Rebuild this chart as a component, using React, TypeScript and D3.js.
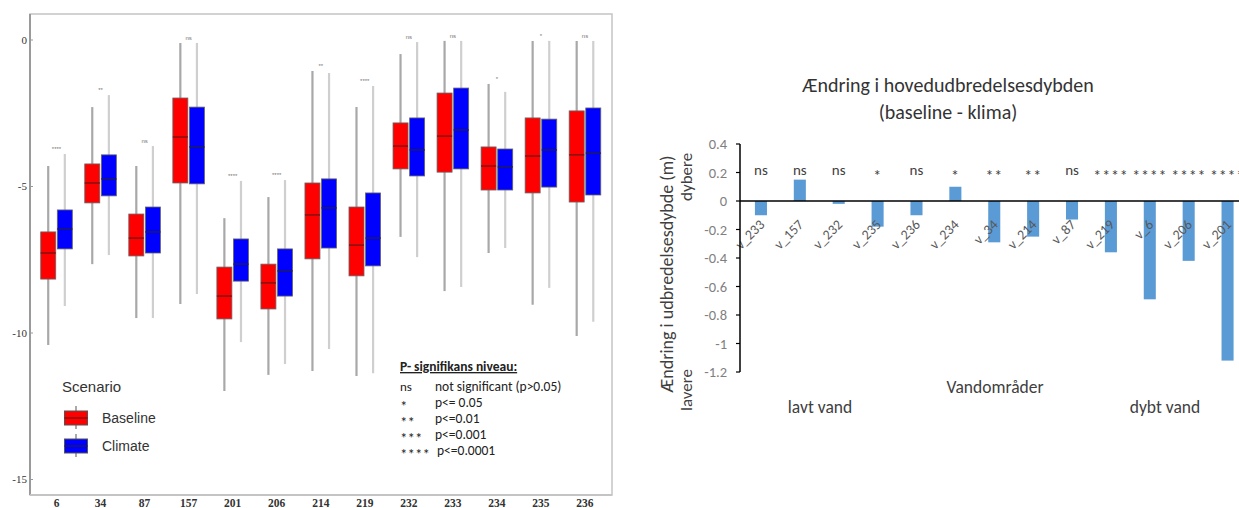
import React from 'react';
import * as d3 from 'd3';

// ---------- Left panel: box plot ----------
const boxCategories = ['6', '34', '87', '157', '201', '206', '214', '219', '232', '233', '234', '235', '236'];
const boxSig = ['****', '**', 'ns', 'ns', '****', '****', '**', '****', 'ns', 'ns', '*', '*', 'ns'];
// Baseline: [upper whisker, Q3, median, Q1, lower whisker]
const baselineMax = [-4.30, -2.29, -4.30, -0.10, -6.08, -5.36, -1.06, -2.29, -0.48, -0.03, -1.50, -0.03, -0.03];
const baselineQ3 = [-6.55, -4.23, -5.94, -1.98, -7.75, -7.65, -4.88, -5.70, -2.83, -1.81, -3.65, -2.66, -2.42];
const baselineMed = [-7.27, -4.88, -6.76, -3.31, -8.74, -8.29, -5.97, -7.00, -3.62, -3.28, -4.30, -3.96, -3.92];
const baselineQ1 = [-8.16, -5.56, -7.37, -4.88, -9.52, -9.18, -7.47, -8.05, -4.40, -4.51, -5.12, -5.22, -5.53];
const baselineMin = [-10.41, -7.65, -9.49, -9.01, -11.98, -11.43, -11.30, -11.47, -6.72, -8.57, -7.27, -9.04, -10.10];
// Climate
const climateMax = [-3.89, -1.88, -3.62, -0.10, -4.81, -4.78, -1.13, -1.57, -0.07, -0.03, -1.77, -0.03, -0.03];
const climateQ3 = [-5.80, -3.92, -5.70, -2.29, -6.79, -7.13, -4.74, -5.22, -2.66, -1.64, -3.72, -2.70, -2.32];
const climateMed = [-6.45, -4.74, -6.55, -3.65, -7.65, -7.88, -5.73, -6.76, -3.75, -3.07, -4.33, -3.75, -3.86];
const climateQ1 = [-7.13, -5.32, -7.27, -4.91, -8.23, -8.74, -7.10, -7.71, -4.64, -4.40, -5.12, -5.02, -5.29];
const climateMin = [-9.08, -7.34, -9.49, -8.67, -10.31, -11.06, -10.55, -11.37, -7.41, -8.43, -7.10, -8.46, -9.62];
const boxYTicks = [0, -5, -10, -15];
const scenarioNames = ['Baseline', 'Climate'];
const sigLegendSymbols = ['ns', '*', '**', '***', '****'];
const sigLegendTexts = ['not significant (p>0.05)', 'p<= 0.05', 'p<=0.01', 'p<=0.001', 'p<=0.0001'];

// ---------- Right panel: bar chart ----------
const barCategories = ['v_233', 'v_157', 'v_232', 'v_235', 'v_236', 'v_234', 'v_34', 'v_214', 'v_87', 'v_219', 'v_6', 'v_206', 'v_201'];
const barValues = [-0.1, 0.15, -0.02, -0.18, -0.1, 0.1, -0.29, -0.25, -0.13, -0.36, -0.69, -0.42, -1.12];
const barSig = ['ns', 'ns', 'ns', '*', 'ns', '*', '**', '**', 'ns', '****', '****', '****', '****'];
const barYTicks = [0.4, 0.2, 0, -0.2, -0.4, -0.6, -0.8, -1, -1.2];

const calibri = 'Carlito, Lato, "Open Sans", sans-serif';

function BoxPanel() {
  const x = d3.scaleBand<string>().domain(boxCategories).range([34.5, 607]).paddingInner(0);
  const y = d3.scaleLinear().domain([-15, 0]).range([479.5, 40]);
  const bw = 15;
  const off = 8.3;
  const series = [
    { name: 'Baseline', fill: '#ff0000', med: '#8b1010', whisk: '#a8a8a8', dx: -off, max: baselineMax, q3: baselineQ3, md: baselineMed, q1: baselineQ1, min: baselineMin },
    { name: 'Climate', fill: '#0000ff', med: '#1a1a6a', whisk: '#cfcfcf', dx: off, max: climateMax, q3: climateQ3, md: climateMed, q1: climateQ1, min: climateMin },
  ];
  return (
    <g>
      <rect x={30} y={14} width={582} height={481} fill="white" stroke="#c4c4c4" strokeWidth={1.5} />
      <line x1={30} x2={30} y1={14} y2={495} stroke="#9a9a9a" strokeWidth={2} />
      <line x1={30} x2={612} y1={495} y2={495} stroke="#c4c4c4" strokeWidth={2} />
      {boxYTicks.map((t) => (
        <g key={t}>
          <line x1={30} x2={33} y1={y(t)} y2={y(t)} stroke="#999" />
          <text x={27} y={y(t)} dy="0.35em" textAnchor="end" fontSize={11} fontFamily='"Liberation Serif", serif' fill="#333">
            {String(t)}
          </text>
        </g>
      ))}
      {boxCategories.map((c, i) => {
        const cx = (x(c) as number) + x.bandwidth() / 2;
        const top = Math.max(baselineMax[i], climateMax[i]);
        return (
          <g key={c}>
            {series.map((s) => {
              const bx = cx + s.dx;
              return (
                <g key={s.name}>
                  <line x1={bx} x2={bx} y1={y(s.max[i])} y2={y(s.min[i])} stroke={s.whisk} strokeWidth={2.2} />
                  <rect x={bx - bw / 2} y={y(s.q3[i])} width={bw} height={y(s.q1[i]) - y(s.q3[i])} fill={s.fill} stroke="#666" strokeWidth={0.8} />
                  <line x1={bx - bw / 2} x2={bx + bw / 2} y1={y(s.md[i])} y2={y(s.md[i])} stroke={s.med} strokeWidth={1.6} />
                </g>
              );
            })}
            <text x={cx} y={y(top) - 3} textAnchor="middle" fontSize={6} fontFamily="sans-serif" fill="#777">
              {boxSig[i]}
            </text>
            <text x={cx} y={503} dy="0.35em" textAnchor="middle" fontSize={11.5} fontWeight="bold" fontFamily='"Liberation Serif", serif' fill="#333">
              {c}
            </text>
          </g>
        );
      })}
      {/* Scenario legend */}
      <text x={62} y={387} dy="0.35em" fontSize={15} fontFamily='"Liberation Sans", Arial, sans-serif' fill="#333">Scenario</text>
      {scenarioNames.map((n, i) => {
        const s = series[i];
        const cy = 418 + i * 28;
        return (
          <g key={n}>
            <line x1={76} x2={76} y1={cy - 12} y2={cy + 11} stroke="#555" strokeWidth={1} />
            <rect x={64.5} y={cy - 7} width={23} height={14} fill={s.fill} stroke="#555" strokeWidth={1} />
            <line x1={64.5} x2={87.5} y1={cy} y2={cy} stroke={s.med} strokeWidth={1.6} />
            <text x={102} y={cy} dy="0.35em" fontSize={14} fontFamily='"Liberation Sans", Arial, sans-serif' fill="#333">{n}</text>
          </g>
        );
      })}
      {/* significance legend */}
      <text x={400} y={371} fontSize={13.5} fontWeight="bold" fontFamily={calibri} fill="#222" textDecoration="underline">
        P- signifikans niveau:
      </text>
      {sigLegendSymbols.map((s, i) => (
        <g key={s}>
          <text x={400} y={386 + i * 16} dy={s.startsWith('*') ? '0.6em' : '0.35em'} fontSize={s.startsWith('*') ? 15 : 13} fontFamily={calibri} fill="#222">{s}</text>
          <text x={i === 4 ? 437 : 435} y={386 + i * 16} dy="0.35em" fontSize={13.5} fontFamily={calibri} fill="#222">{sigLegendTexts[i]}</text>
        </g>
      ))}
    </g>
  );
}

function BarPanel() {
  const x = d3.scaleBand<string>().domain(barCategories).range([741.5, 1247]).paddingInner(0.69).paddingOuter(0.345);
  const y = d3.scaleLinear().domain([-1.2, 0.4]).range([372, 144]);
  const fmt = (v: number) => String(Math.round(v * 10) / 10);
  return (
    <g fontFamily={calibri}>
      <text x={948} y={85} dy="0.35em" textAnchor="middle" fontSize={20} fill="#333">Ændring i hovedudbredelsesdybden</text>
      <text x={948} y={112} dy="0.35em" textAnchor="middle" fontSize={20} fill="#333">(baseline - klima)</text>
      {barCategories.map((c, i) => {
        const v = barValues[i];
        const bx = x(c) as number;
        const cx = bx + x.bandwidth() / 2;
        const isStar = barSig[i].startsWith('*');
        return (
          <g key={c}>
            <rect x={bx} y={y(Math.max(0, v))} width={x.bandwidth()} height={Math.abs(y(v) - y(0))} fill="#5b9bd5" />
            <text x={cx} y={isStar ? 181 : 175} textAnchor="middle" fontSize={isStar ? 16 : 15} letterSpacing={isStar ? 0.8 : 0} fill="#404040">{barSig[i]}</text>
            <text transform={`translate(${cx + 1},${y(0) + 21}) rotate(-45)`} textAnchor="end" dy="0.35em" fontSize={14} fill="#595959">
              {c}
            </text>
          </g>
        );
      })}
      <line x1={740} x2={1239} y1={y(0)} y2={y(0)} stroke="#000" strokeWidth={1.5} />
      <line x1={740} x2={740} y1={y(0.4)} y2={y(-1.2)} stroke="#000" strokeWidth={1.5} />
      {barYTicks.map((t) => (
        <g key={t}>
          <line x1={736} x2={740} y1={y(t)} y2={y(t)} stroke="#000" strokeWidth={1.2} />
          <text x={727} y={y(t)} dy="0.35em" textAnchor="end" fontSize={14.5} fill="#7f7f7f">{fmt(t)}</text>
        </g>
      ))}
      <text transform="translate(673,274) rotate(-90)" textAnchor="middle" fontSize={18} fill="#404040">Ændring i udbredelsesdybde (m)</text>
      <text transform="translate(692,201) rotate(-90)" textAnchor="start" fontSize={17} fill="#404040">dybere</text>
      <text transform="translate(692,411) rotate(-90)" textAnchor="start" fontSize={17} fill="#404040">lavere</text>
      <text x={995} y={387} dy="0.35em" textAnchor="middle" fontSize={17.5} fill="#404040">Vandområder</text>
      <text x={820} y={407} dy="0.35em" textAnchor="middle" fontSize={17.5} fill="#404040">lavt vand</text>
      <text x={1165} y={407} dy="0.35em" textAnchor="middle" fontSize={17.5} fill="#404040">dybt vand</text>
    </g>
  );
}

export default function App() {
  return (
    <svg width={1239} height={508} style={{ position: 'absolute', left: 0, top: 0, background: 'white' }}>
      <rect x={0} y={0} width={1239} height={508} fill="white" />
      <BoxPanel />
      <BarPanel />
    </svg>
  );
}
